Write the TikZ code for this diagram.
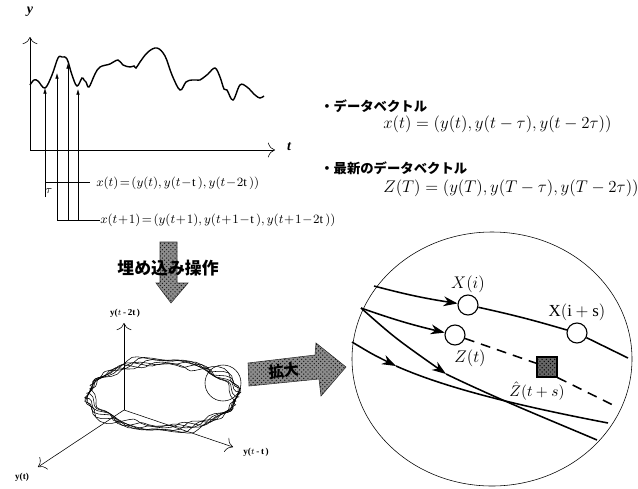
\documentclass[tikz,border=0pt]{standalone}
\usepackage{fontspec}
\setmainfont{Liberation Serif}
\newfontfamily\jpfont{Noto Sans CJK JP}
\usetikzlibrary{arrows.meta, patterns, positioning}

\begin{document}
\begin{tikzpicture}[
    x=0.025cm, y=-0.025cm,   % one unit = one pixel of the reference
    axis/.style={thin, -{To[length=5pt]}},
    probe/.style={thin, -{Latex[length=4pt, width=2.5pt]}},
    hatched/.style={draw=black!80, fill=black!45,
        postaction={pattern=crosshatch dots, pattern color=black!90}},
    traj/.style={line width=1.1pt},
    traj_arrow/.style={traj, -{Stealth[length=10pt, width=7pt]}},
    pt_node/.style={circle, draw, thick, fill=white, minimum size=0.5cm, inner sep=0pt},
    pred_node/.style={rectangle, draw, thick, fill=black!60, minimum size=0.5cm, inner sep=0pt,
        postaction={pattern=crosshatch dots, pattern color=black}},
    pt_label/.style={font=\fontsize{12}{14}\selectfont, inner sep=1pt},
    jp_label/.style={font=\jpfont\bfseries\fontsize{9.5}{11}\selectfont, anchor=west, inner sep=0pt},
    eq_label/.style={font=\fontsize{12}{14}\selectfont, anchor=west, inner sep=0pt},
    small_eq/.style={font=\fontsize{9}{10}\selectfont, anchor=west, inner sep=0pt},
    tiny_lab/.style={font=\bfseries\fontsize{6.5}{7}\selectfont}
    ]
    \useasboundingbox (0,0) rectangle (638,488);

    % Time series
    \coordinate (O) at (30,150);
    \draw[axis] (O) -- (30,37);
    \draw[axis] (O) -- (275,150);
    \node[font=\bfseries\itshape] (ylab) at (30,12) {y};
    \node[font=\bfseries\itshape] (tlab) at (289,147) {t};
    \draw[line width=1pt] plot[smooth, tension=0.6] coordinates {
        (30,85) (34,80) (38,81) (45,88) (52,75) (58,58) (62,57) (67,59) (72,75) (77,86)
        (82,78) (84,80) (86,82) (89,87) (95,74) (100,67) (110,64) (118,60)
        (123,65) (130,67) (134,66) (136,68) (140,62) (148,52) (157,48) (165,56)
        (172,75) (180,90) (186,82) (192,80) (200,80) (203,78) (208,74) (215,68)
        (220,77) (224,89) (227,90) (233,100) (240,85) (247,87) (255,95) (260,98) (264,96)};

    % Delay vectors
    \coordinate (b1) at (45,197);
    \coordinate (b2) at (57,220);
    \coordinate (b3) at (68,220);
    \coordinate (b4) at (78,220);
    \draw[probe] (b1) -- (45,88);
    \draw[probe] (b2) -- (57,73);
    \draw[probe] (b3) -- (68,63);
    \draw[probe] (b4) -- (78,89);
    \draw[thin] (45,182) -- (90,182);
    \draw[thin] (b2) -- (100,220);
    \node[font=\fontsize{8}{9}\selectfont] (tau) at (49,191) {$\tau$};
    \node[small_eq] (eq1) at (96,183) {$x(t)\!=\!(y(t),y(t\!-\!\mathrm{t}\,),y(t\!-\!2\mathrm{t}\,))$};
    \node[small_eq] (eq2) at (100,220) {$x(t\!+\!1)\!=\!(y(t\!+\!1),y(t\!+\!1\!-\!\mathrm{t}\,),y(t\!+\!1\!-\!2\mathrm{t}\,))$};

    % Definitions
    \node[jp_label] (def1) at (320,106) {・データベクトル};
    \node[eq_label] (vec1) at (383,124) {$x(t)=(y(t),y(t-\tau),y(t-2\tau))$};
    \node[jp_label] (def2) at (320,168) {・最新のデータベクトル};
    \node[eq_label] (vec2) at (383,188) {$Z(T)=(y(T),y(T-\tau),y(T-2\tau))$};

    % Embedding arrow
    \draw[hatched] (160,242) -- (177,242) -- (177,283) -- (188,283) -- (171,303)
        -- (156,283) -- (160,283) -- cycle;
    \node[font=\jpfont\bfseries\fontsize{12}{13}\selectfont] (embed) at (168,268) {埋め込み操作};

    % Attractor
    \coordinate (O3) at (124,410);
    \draw[axis] (O3) -- (124,323);
    \draw[axis] (O3) -- (233,447);
    \draw[axis] (O3) -- (38,467);
    \node[tiny_lab] (z3) at (125,313) {y($t$\,-\,2t\,)};
    \node[tiny_lab] (x3) at (256,452) {y($t$\,-\,t\,)};
    \node[tiny_lab] (y3) at (22,477) {y(t)};
    \foreach \k in {0,...,5}
        \draw[thin] plot[sharp cycle, samples=72, domain=0:355, variable=\a]
            ({162+(70+1.2*\k)*cos(\a)+3*sin(3*\a+50*\k)+2*max(0,cos(\a-40))+2*sin(13*\a+40*\k)},
             {395+(31+0.9*\k)*sin(\a)+2.5*cos(5*\a+70*\k)+2*cos(11*\a+60*\k)});
    \draw[thin] (223,383) circle (18);

    % Magnify arrow
    \draw[hatched] (248,363) -- (315,355) -- (316,343) -- (346,367) -- (321,396)
        -- (319,379) -- (249,386) -- cycle;
    \node[font=\jpfont\bfseries\fontsize{11}{12}\selectfont, rotate=6] (zoom) at (284,371) {拡大};

    % Magnified view
    \draw[thin] (492,359) ellipse (140 and 127);
    \node[pt_node] (Xi) at (468,305) {};
    \node[pt_node] (Xis) at (577,333) {};
    \node[pt_node] (Zt) at (455,335) {};
    \node[pred_node] (Zh) at (547,367) {};
    \node[pt_label] (Xilab) [above=0pt of Xi] {$X(i)$};
    \node[pt_label] (Xislab) [above=0pt of Xis] {$\mathrm{X(i+s)}$};
    \node[pt_label] (Ztlab) at (470,358) {$Z(t)$};
    \node[pt_label, font=\fontsize{11}{13}\selectfont] (Zhlab) at (537,391) {$\hat{Z}(t+s)$};

    \coordinate (s1) at (374,286);
    \coordinate (e1) at (628,358);
    \coordinate (s2) at (361,308);
    \coordinate (e2) at (617,407);
    \coordinate (m3) at (446,374);
    \coordinate (e3) at (597,440);
    \coordinate (s4) at (352,342);
    \coordinate (m4) at (396,366);
    \coordinate (e4) at (608,423);

    \draw[traj_arrow] (s1) to[bend right=3] (Xi);
    \draw[traj] (Xi) to[bend left=2] (Xis);
    \draw[traj] (Xis) -- (e1);
    \draw[traj_arrow] (s2) to[bend right=3] (Zt);
    \draw[traj, dashed, dash pattern=on 7pt off 5pt] (Zt) -- (Zh);
    \draw[traj, dashed, dash pattern=on 7pt off 5pt] (Zh.south east) -- (e2);
    \draw[traj_arrow] (s2) .. controls (395,338) .. (m3);
    \draw[traj] (m3) .. controls (500,400) and (550,420) .. (e3);
    \draw[traj_arrow] (s4) .. controls (372,354) .. (m4);
    \draw[traj] (m4) .. controls (450,390) and (530,408) .. (e4);
\end{tikzpicture}
\end{document}
